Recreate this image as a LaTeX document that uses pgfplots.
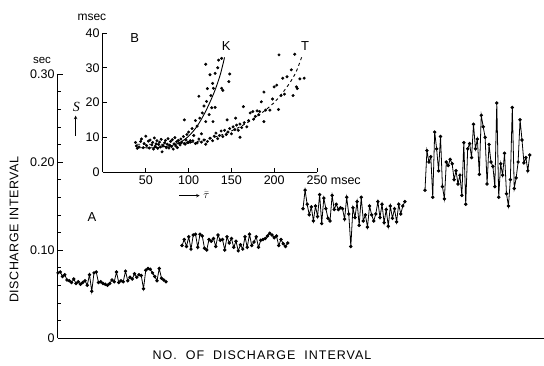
\documentclass[border=0pt]{standalone}
\usepackage{pgfplots}
\pgfplotsset{compat=1.18}
\usepackage{fontspec}
\setmainfont{Liberation Sans}
\newfontfamily\seriffont{Liberation Serif}
\tikzset{seg/.style={black, line width=0.8pt, mark=*, mark size=1.3pt, mark options={solid, fill=black}}}
\begin{document}
\begin{tikzpicture}[x=1pt,y=1pt]
\useasboundingbox (-58pt,-27pt) rectangle (486pt,338pt);
% ---------------- main panel A ----------------
\begin{axis}[
  at={(0pt,0pt)}, anchor=south west, scale only axis,
  width=486pt, height=264pt,
  xmin=0, xmax=486, ymin=0, ymax=0.30,
  axis x line*=bottom, axis y line*=left,
  xtick=\empty,
  ytick={0,0.1,0.2,0.3}, yticklabels={0,0.10,0.20,0.30},
  minor y tick num=4,
  tick align=inside,
  major tick length=5pt, minor tick length=3pt,
  tick style={black, line width=0.6pt},
  axis line style={line width=1pt},
  ticklabel style={font=\fontsize{12.5}{14}\selectfont},
  clip=false,
]
\addplot[seg] table[x expr=\coordindex*2.25, y=y] {
y
0.074
0.075
0.070
0.072
0.066
0.065
0.063
0.067
0.062
0.064
0.061
0.063
0.065
0.060
0.072
0.053
0.074
0.075
0.063
0.064
0.062
0.061
0.060
0.062
0.066
0.064
0.075
0.063
0.065
0.064
0.076
0.065
0.069
0.067
0.073
0.069
0.072
0.071
0.056
0.077
0.079
0.078
0.074
0.070
0.065
0.079
0.068
0.066
0.064
};
\addplot[seg] table[x expr=124+\coordindex*2.25, y=y] {
y
0.105
0.112
0.104
0.115
0.101
0.117
0.118
0.103
0.118
0.116
0.102
0.100
0.112
0.110
0.113
0.104
0.117
0.111
0.112
0.100
0.115
0.108
0.113
0.103
0.110
0.099
0.106
0.101
0.115
0.103
0.118
0.105
0.109
0.115
0.103
0.111
0.112
0.113
0.116
0.119
0.117
0.114
0.116
0.105
0.112
0.107
0.104
0.108
};
\addplot[seg] table[x expr=245+\coordindex*2.08, y=y] {
y
0.147
0.168
0.152
0.140
0.149
0.133
0.150
0.138
0.163
0.130
0.159
0.147
0.136
0.133
0.162
0.146
0.152
0.146
0.148
0.147
0.135
0.160
0.141
0.104
0.148
0.137
0.155
0.128
0.160
0.133
0.140
0.126
0.150
0.140
0.133
0.141
0.155
0.137
0.152
0.131
0.146
0.127
0.150
0.136
0.147
0.132
0.152
0.141
0.150
0.155
};
\addplot[seg] table[x expr=367+\coordindex*1.94, y=y] {
y
0.168
0.213
0.200
0.206
0.160
0.234
0.215
0.190
0.229
0.172
0.158
0.200
0.196
0.203
0.198
0.180
0.190
0.175
0.185
0.162
0.222
0.152
0.215
0.221
0.205
0.243
0.215
0.226
0.186
0.253
0.240
0.228
0.175
0.220
0.200
0.195
0.172
0.267
0.160
0.198
0.185
0.210
0.164
0.150
0.180
0.262
0.170
0.182
0.200
0.248
0.225
0.199
0.205
0.190
0.208
};
\node[font=\fontsize{11.5}{13}\selectfont] at (axis cs:-16,0.315) {sec};
\node[font=\fontsize{13}{15}\selectfont] at (axis cs:34,0.137) {A};
\node[font=\fontsize{12.5}{14}\selectfont\addfontfeature{LetterSpace=4}, rotate=90] at (axis cs:-44,0.123) {DISCHARGE INTERVAL};
\node[font=\fontsize{12.5}{14}\selectfont\addfontfeature{LetterSpace=8}] at (axis cs:204,-0.02) {NO.\ \ OF\ \ DISCHARGE\ \ INTERVAL};
\end{axis}
% ---------------- inset panel B ----------------
\begin{axis}[
  at={(45pt,166pt)}, anchor=south west, scale only axis,
  width=214pt, height=139pt,
  xmin=0, xmax=250, ymin=0, ymax=40,
  axis x line*=bottom, axis y line*=left,
  xtick={50,100,150,200,250},
  xticklabels={50,100,150,200,{250\rlap{ msec}}},
  ytick={0,10,20,30,40},
  yticklabels={0,10,20,30,40},
  tick align=inside,
  major tick length=4pt,
  tick style={black, line width=0.6pt},
  axis line style={line width=1pt},
  ticklabel style={font=\fontsize{12.5}{14}\selectfont},
  clip=false,
]
% scatter points
\addplot[only marks, mark=*, mark size=1.3pt, black] coordinates {
(38,8.5)(39,7.5)(40,6.8)(42,7.2)(44,8.8)(45,9.5)(47,7.0)(48,8.2)(50,10.3)(51,7.6)
(53,8.9)(54,6.9)(55,9.2)(57,7.8)(58,8.5)(59,6.6)(60,9.8)(61,7.4)(62,8.1)(63,9.0)
(64,6.8)(65,7.9)(66,8.6)(67,7.2)(68,9.4)(69,5.8)(70,7.6)(72,8.4)(73,9.1)(74,7.0)
(75,8.0)(76,9.6)(77,6.9)(78,7.7)(79,8.8)(80,7.3)(81,9.3)(82,6.6)(83,8.1)(84,9.9)
(85,7.5)(86,8.7)(87,7.0)(88,9.1)(89,8.3)(90,7.8)(91,9.5)(92,8.6)(94,10.2)(95,15.0)
(96,8.0)(97,9.2)(98,10.8)(99,8.5)(100,11.5)(102,9.0)
(104,12.5)(106,10.5)(108,14.8)(110,13.2)(112,21.8)(113,15.5)(115,11.0)(116,17.0)
(118,19.0)(120,31.0)(120,14.5)(121,20.3)(122,24.0)(124,16.5)(125,28.0)(126,22.0)
(127,18.5)(128,25.5)(129,24.1)(131,18.6)(128.5,14.5)(131,28.4)(134,30.0)(135,32.2)
(138.6,32.7)(138.6,24.1)(140,23.5)(148,28.2)(147,26.0)
(95,8.2)(100,8.5)(102,8.6)(105,9.0)(108,8.2)(110,8.4)(112,9.5)(115,8.6)(118,9.2)
(120,8.0)(122,8.8)(125,9.7)(128,9.0)(130,10.3)(132,11.2)(134,9.6)(136,10.5)
(138,11.8)(140,10.2)(142,12.0)(144,10.8)(145,15.0)(146,11.5)(148,12.5)(150,11.0)
(152,13.0)(154,12.2)(155,15.5)(156,13.5)(158,12.0)(160,10.0)(160,13.8)(162,12.8)
(164,18.8)(165,14.2)(168,13.0)(170,14.8)(172,17.0)(175,17.4)(176,15.2)(178,16.0)
(180,17.6)(182,16.5)(183,17.4)(185,20.2)(188,23.0)(188,14.5)(190,17.8)(195,17.8)
(198,21.0)(200,24.5)(203,25.0)(205.6,33.7)(205,18.0)(208,22.0)(210,27.0)(212,22.4)
(215,27.4)(220,29.4)(222,22.0)(224,33.9)(226,24.5)(227,24.0)(230,26.8)(235,27.0)
};
% fitted curves
\addplot[black, line width=0.9pt, smooth] coordinates {
(40,7.0)(60,7.0)(80,7.6)(90,8.5)(100,10.3)(110,13.2)(120,17.5)(130,23.0)(137,28.0)(142,33.0)
};
\addplot[black, line width=0.9pt, dashed, smooth] coordinates {
(40,8.0)(80,8.0)(100,8.4)(120,9.3)(140,10.8)(160,13.0)(180,16.0)(200,20.0)(215,24.5)(225,28.5)(232,33.0)
};
\node[font=\fontsize{13}{15}\selectfont] at (axis cs:37,38.6) {B};
\node[font=\fontsize{13}{15}\selectfont] at (axis cs:144,36.2) {K};
\node[font=\fontsize{13}{15}\selectfont] at (axis cs:236,36.2) {T};
\node[font=\fontsize{12}{14}\selectfont] at (axis cs:-13,44.6) {msec};
\node[font=\fontsize{14}{16}\selectfont\seriffont\itshape] at (axis cs:-31,18.8) {S};
\draw[-stealth, line width=0.6pt] (axis cs:-32,10.5) -- (axis cs:-32,16.2);
\draw[-stealth, line width=0.6pt] (axis cs:89,-6.8) -- (axis cs:113,-6.8);
\node[anchor=west, font=\fontsize{11}{13}\selectfont] at (axis cs:113,-6.8) {$\bar{\tau}$};
\end{axis}
\end{tikzpicture}
\end{document}
